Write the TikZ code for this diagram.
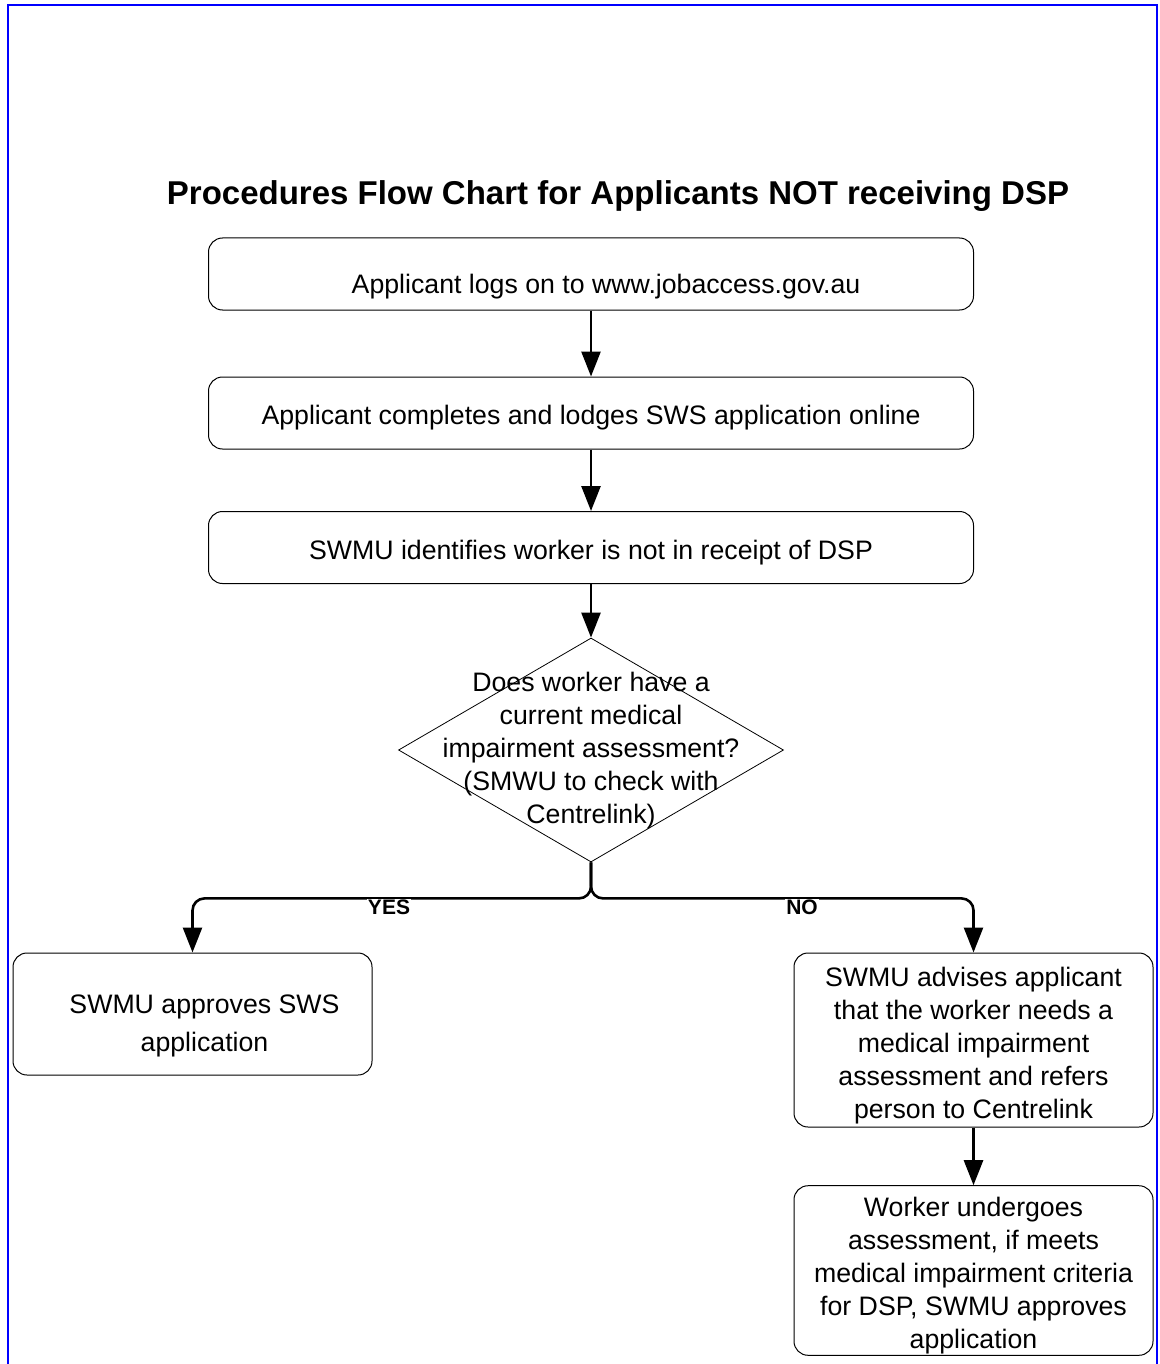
\documentclass[tikz,border=0pt]{standalone}
\usepackage{fontspec}
\setmainfont{Liberation Sans}
\usepackage{tikz}
\usetikzlibrary{shapes.geometric}
\usetikzlibrary{arrows.meta}
\usetikzlibrary{positioning}
\newcommand{\corps}{\fontsize{26.7}{33}\selectfont}
\newcommand{\titre}{\fontsize{33}{40}\selectfont\bfseries}
\newcommand{\reponse}{\fontsize{21}{25}\selectfont\bfseries}
\newcommand{\haut}[1]{\rule{0pt}{#1}}
\tikzstyle{etape}=[rectangle,draw,rounded corners=14pt,line width=1pt,
minimum width=765pt,minimum height=72pt,align=center,font=\corps]
\tikzstyle{cote}=[etape,minimum width=359pt,inner ysep=1pt]
\tikzstyle{decision}=[diamond,draw,line width=0.8pt,
minimum width=385pt,minimum height=224pt,inner sep=0pt]
\tikzstyle{suite}=[-{Triangle[width=19pt,length=25pt]},line width=2.6pt,rounded corners=12pt]
\tikzstyle{choix}=[font=\reponse,fill=white,inner sep=1pt]
\begin{document}
\begin{tikzpicture}[x=1pt,y=-1pt]
\useasboundingbox (0,0) rectangle (1159,1364);
\draw[blue,line width=2pt] (8,1364) -- (8,5) -- (1157,5) -- (1157,1364);
\node[font=\titre] (titre) at (618,196) {Procedures Flow Chart for Applicants NOT receiving DSP};
\node[etape] (login) at (591,274) {\haut{44pt}\hspace*{30pt}Applicant logs on to www.jobaccess.gov.au};
\node[etape] (lodge) at (591,413) {\haut{29pt}Applicant completes and lodges SWS application online};
\node[etape] (identify) at (591,547.5) {\haut{29pt}SWMU identifies worker is not in receipt of DSP};
\node[decision] (question) at (591,750) {};
\node[align=center,font=\corps] (qtext) at (591,751) {Does worker have a\\current medical\\impairment assessment?\\(SMWU to check with\\Centrelink)};
\node[cote,minimum height=122pt] (approve) at (192.5,1014) {\haut{42pt}\hspace*{24pt}SWMU approves SWS\\[5pt]\hspace*{24pt}application};
\node[cote,minimum height=174pt] (advise) at (973.5,1040) {\haut{30pt}SWMU advises applicant\\that the worker needs a\\medical impairment\\assessment and refers\\person to Centrelink};
\node[cote,minimum height=169pt] (undergo) at (973.5,1270.5) {\haut{30pt}Worker undergoes\\assessment, if meets\\medical impairment criteria\\for DSP, SWMU approves\\application};
%fleches
\draw[suite] (login) -- (lodge);
\draw[suite] (lodge) -- (identify);
\draw[suite] (identify) -- (question);
\draw[suite] (question.south) -- ++(0,36) -| (approve.north);
\draw[suite] (question.south) -- ++(0,36) -| (advise.north);
\draw[suite] (advise) -- (undergo);
\node[choix] (yes) at (389,907) {YES};
\node[choix] (no) at (802,907) {NO};
\end{tikzpicture}
\end{document}
